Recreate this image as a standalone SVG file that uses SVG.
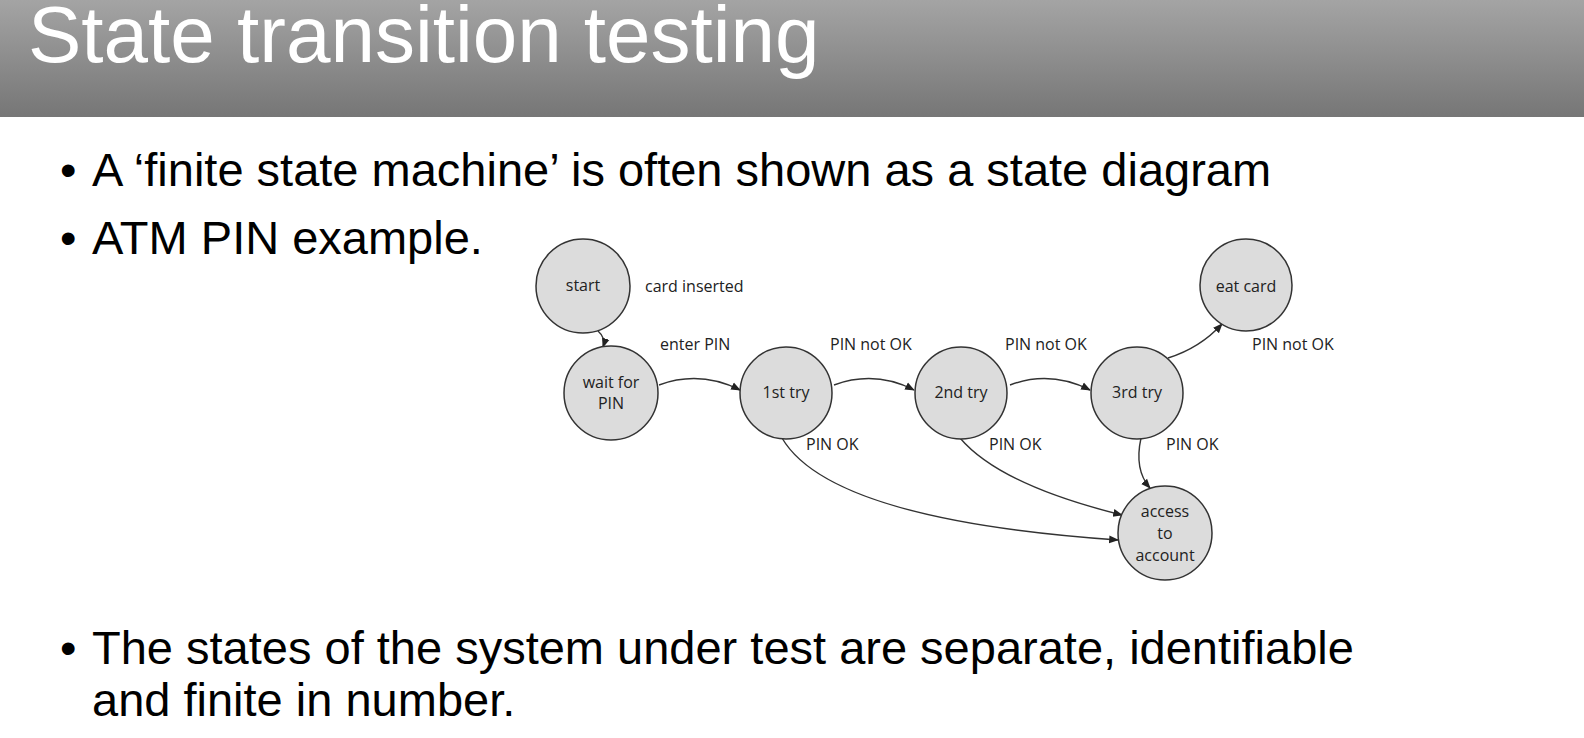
<svg xmlns="http://www.w3.org/2000/svg" width="1584" height="738" viewBox="0 0 1584 738">
<defs>
<linearGradient id="hd" x1="0" y1="0" x2="0" y2="1"><stop offset="0" stop-color="#a4a4a4"/><stop offset="1" stop-color="#767676"/></linearGradient>
<marker id="ar" viewBox="0 0 10 10" refX="9" refY="5" markerWidth="7" markerHeight="7" orient="auto"><path d="M0,1 L10,5 L0,9 z" fill="#222"/></marker>
</defs>
<style>
.st{fill:#dcdcdc;stroke:#333;stroke-width:1.5}
.lb{font-family:"Open Sans","Liberation Sans",sans-serif;font-size:16px;fill:#222;text-anchor:middle}
.el{font-family:"Open Sans","Liberation Sans",sans-serif;font-size:16px;fill:#222}
.c{fill:none;stroke:#333;stroke-width:1.4;marker-end:url(#ar)}
.b{font-family:"Liberation Sans",Arial,sans-serif;font-size:47px;fill:#000}
</style>
<rect width="1584" height="738" fill="#fff"/>
<rect width="1584" height="117" fill="url(#hd)"/>
<text x="28" y="62" font-family="Liberation Sans,Arial,sans-serif" font-size="80" fill="#fff">State transition testing</text>
<text class="b" x="60" y="186" font-size="30">•</text><text class="b" x="92" y="186">A ‘finite state machine’ is often shown as a state diagram</text>
<text class="b" x="60" y="254" font-size="30">•</text><text class="b" x="92" y="254">ATM PIN example.</text>
<text class="b" x="60" y="664" font-size="30">•</text><text class="b" x="92" y="664">The states of the system under test are separate, identifiable</text>
<text class="b" x="92" y="716">and finite in number.</text>
<g id="connectors">
<path class="c" d="M598,331 Q606,338 603,347"/>
<path class="c" d="M659,385 Q700,370 740,390"/>
<path class="c" d="M834,385 Q875,370 914,390"/>
<path class="c" d="M1010,385 Q1050,370 1090,390"/>
<path class="c" d="M1168,358 Q1200,348 1222,324"/>
<path class="c" d="M782,438 Q830,520 1118,540"/>
<path class="c" d="M960,438 Q1000,485 1122,515"/>
<path class="c" d="M1141,438 Q1134,470 1150,488"/>
</g>
<g id="start"><circle class="st" cx="583" cy="286" r="47"/><text class="lb" x="583" y="291">start</text></g>
<g id="wait"><circle class="st" cx="611" cy="393" r="47"/><text class="lb" x="611" y="388">wait for</text><text class="lb" x="611" y="409">PIN</text></g>
<g id="try1"><circle class="st" cx="786" cy="393" r="46"/><text class="lb" x="786" y="398">1st try</text></g>
<g id="try2"><circle class="st" cx="961" cy="393" r="46"/><text class="lb" x="961" y="398">2nd try</text></g>
<g id="try3"><circle class="st" cx="1137" cy="393" r="46"/><text class="lb" x="1137" y="398">3rd try</text></g>
<g id="eat"><circle class="st" cx="1246" cy="285" r="46"/><text class="lb" x="1246" y="292">eat card</text></g>
<g id="access"><circle class="st" cx="1165" cy="533" r="47"/><text class="lb" x="1165" y="517">access</text><text class="lb" x="1165" y="539">to</text><text class="lb" x="1165" y="561">account</text></g>
<g id="labels">
<text class="el" x="645" y="292">card inserted</text>
<text class="el" x="660" y="350">enter PIN</text>
<text class="el" x="830" y="350">PIN not OK</text>
<text class="el" x="1005" y="350">PIN not OK</text>
<text class="el" x="1252" y="350">PIN not OK</text>
<text class="el" x="806" y="450">PIN OK</text>
<text class="el" x="989" y="450">PIN OK</text>
<text class="el" x="1166" y="450">PIN OK</text>
</g>
</svg>
